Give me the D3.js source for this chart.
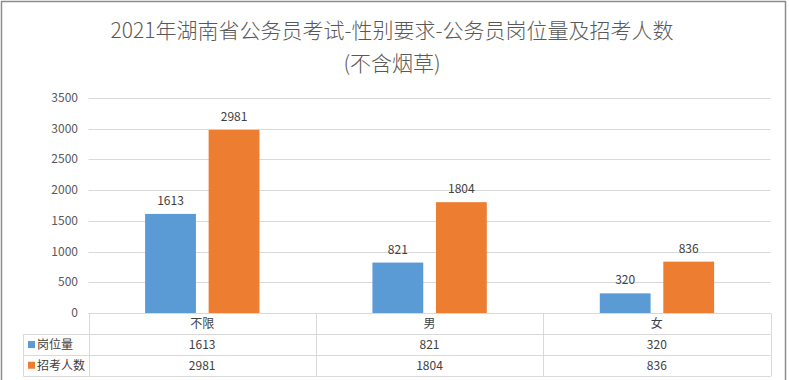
<!DOCTYPE html>
<html>
<head>
<meta charset="utf-8">
<script src="https://cdn.jsdelivr.net/npm/d3@7"></script>
<style>
  body { margin: 0; background: #fff; }
  svg text { font-family: "Noto Sans CJK SC", "DejaVu Sans", sans-serif; }
</style>
</head>
<body>
<svg id="chart" width="789" height="380"></svg>
<script>
// data
const categories = ["不限", "男", "女"];
const seriesNames = ["岗位量", "招考人数"];
const positions = [1613, 821, 320];
const applicants = [2981, 1804, 836];
const yTicks = [0, 500, 1000, 1500, 2000, 2500, 3000, 3500];
const colors = ["#5b9bd5", "#ed7d31"];

const seriesValues = [positions, applicants];

const svg = d3.select("#chart");

// outer frame
svg.append("rect")
    .attr("x", 1.5).attr("y", 1.5)
    .attr("width", 784).attr("height", 390)
    .attr("fill", "none")
    .attr("stroke", "#8c8c8c")
    .attr("stroke-width", 1.5);

// title
svg.append("text")
    .attr("x", 392).attr("y", 38)
    .attr("text-anchor", "middle")
    .attr("fill", "#595959")
    .attr("font-size", 21)
    .attr("font-weight", 300)
    .text("2021年湖南省公务员考试-性别要求-公务员岗位量及招考人数");

svg.append("text")
    .attr("x", 392).attr("y", 71)
    .attr("text-anchor", "middle")
    .attr("fill", "#595959")
    .attr("font-size", 21)
    .attr("font-weight", 300)
    .text("(不含烟草)");

const plotLeft = 88.5, plotRight = 770.5;
const yScale = d3.scaleLinear().domain([0, 3500]).range([313, 98]);

const xScale = d3.scaleBand()
    .domain(categories)
    .range([plotLeft, plotRight]);

const bw = xScale.bandwidth();
const x1 = d3.scaleBand()
    .domain(seriesNames)
    .range([bw * 0.249, bw * 0.752])
    .paddingInner(0.2);

// gridlines
svg.append("g")
    .selectAll("line")
    .data(yTicks)
    .join("line")
    .attr("x1", plotLeft)
    .attr("x2", plotRight)
    .attr("y1", d => Math.round(yScale(d)) + 0.5)
    .attr("y2", d => Math.round(yScale(d)) + 0.5)
    .attr("stroke", "#d9d9d9");

// y axis labels
svg.append("g")
    .selectAll("text")
    .data(yTicks)
    .join("text")
    .attr("x", 78)
    .attr("y", d => yScale(d) + 4)
    .attr("text-anchor", "end")
    .attr("fill", "#595959")
    .attr("font-size", 12)
    .text(d => d);

// bars
seriesNames.forEach(function (name, si) {
    const g = svg.append("g");
    g.selectAll("rect")
        .data(categories)
        .join("rect")
        .attr("x", d => xScale(d) + x1(name))
        .attr("y", (d, i) => yScale(seriesValues[si][i]))
        .attr("width", x1.bandwidth())
        .attr("height", (d, i) => yScale(0) - yScale(seriesValues[si][i]))
        .attr("fill", colors[si]);

    g.selectAll("text")
        .data(categories)
        .join("text")
        .attr("x", d => xScale(d) + x1(name) + x1.bandwidth() / 2)
        .attr("y", (d, i) => yScale(seriesValues[si][i]) - 9)
        .attr("text-anchor", "middle")
        .attr("fill", "#404040")
        .attr("font-size", 12)
        .text((d, i) => seriesValues[si][i]);
});

// data table
const tableTop = 313.5, rowH = 20.7, legendLeft = 23.5;
const table = svg.append("g").attr("stroke", "#d9d9d9").attr("fill", "none");

// horizontal lines
table.append("line").attr("x1", plotLeft).attr("x2", plotRight).attr("y1", tableTop).attr("y2", tableTop);
[1, 2, 3].forEach(function (r) {
    const y = Math.round(tableTop + r * rowH) + 0.5;
    table.append("line")
        .attr("x1", r === 0 ? plotLeft : legendLeft)
        .attr("x2", plotRight)
        .attr("y1", y).attr("y2", y);
});
// vertical lines
categories.concat(["end"]).forEach(function (c) {
    const x = c === "end" ? plotRight : xScale(c);
    table.append("line")
        .attr("x1", Math.round(x) + 0.5).attr("x2", Math.round(x) + 0.5)
        .attr("y1", tableTop).attr("y2", Math.round(tableTop + 3 * rowH) + 0.5);
});
table.append("line")
    .attr("x1", legendLeft).attr("x2", legendLeft)
    .attr("y1", Math.round(tableTop + rowH) + 0.5)
    .attr("y2", Math.round(tableTop + 3 * rowH) + 0.5);

// header row
svg.append("g")
    .selectAll("text")
    .data(categories)
    .join("text")
    .attr("x", d => xScale(d) + bw / 2)
    .attr("y", tableTop + rowH / 2 + 4.5)
    .attr("text-anchor", "middle")
    .attr("fill", "#404040")
    .attr("font-size", 12)
    .text(d => d);

// series rows
seriesNames.forEach(function (name, si) {
    const cy = tableTop + (si + 1) * rowH + rowH / 2;
    svg.append("rect")
        .attr("x", 28).attr("y", cy - 3.5)
        .attr("width", 7).attr("height", 7)
        .attr("fill", colors[si]);
    svg.append("text")
        .attr("x", 37).attr("y", cy + 4.5)
        .attr("fill", "#404040")
        .attr("font-size", 12)
        .text(name);
    svg.append("g")
        .selectAll("text")
        .data(categories)
        .join("text")
        .attr("x", d => xScale(d) + bw / 2)
        .attr("y", cy + 4.5)
        .attr("text-anchor", "middle")
        .attr("fill", "#404040")
        .attr("font-size", 12)
        .text((d, i) => seriesValues[si][i]);
});
</script>
</body>
</html>
